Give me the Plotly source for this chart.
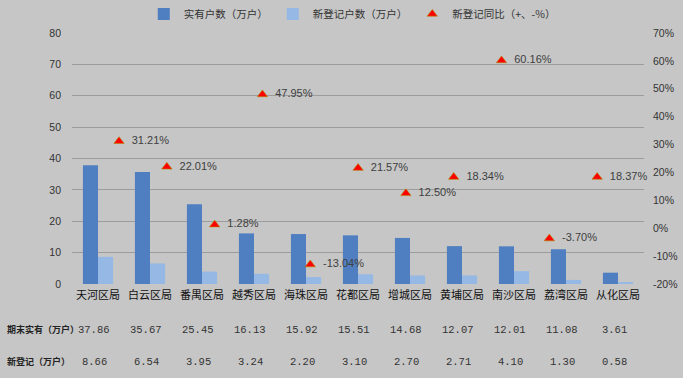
import plotly.graph_objects as go

categories = ["天河区局", "白云区局", "番禺区局", "越秀区局", "海珠区局", "花都区局",
              "增城区局", "黄埔区局", "南沙区局", "荔湾区局", "从化区局"]
existing = [37.86, 35.67, 25.45, 16.13, 15.92, 15.51, 14.68, 12.07, 12.01, 11.08, 3.61]
new_reg = [8.66, 6.54, 3.95, 3.24, 2.20, 3.10, 2.70, 2.71, 4.10, 1.30, 0.58]
yoy_pct = [31.21, 22.01, 1.28, 47.95, -13.04, 21.57, 12.50, 18.34, 60.16, -3.70, 18.37]
left_ticks = [0, 10, 20, 30, 40, 50, 60, 70, 80]
right_ticks = [-20, -10, 0, 10, 20, 30, 40, 50, 60, 70]
row_labels = ["期末实有（万户）", "新登记（万户）"]

BG = "#c6c6c6"
GRID = "#9c9c9c"
TXT = "#333333"
CJK = "Noto Sans CJK SC"

fig = go.Figure()
fig.add_trace(go.Bar(x=categories, y=existing, name="实有户数（万户）",
                     marker=dict(color="#4f7fc0", line=dict(width=0))))
fig.add_trace(go.Bar(x=categories, y=new_reg, name="新登记户数（万户）",
                     marker=dict(color="#95b8e4", line=dict(width=0))))
fig.add_trace(go.Scatter(x=list(range(len(categories))), y=yoy_pct, name="新登记同比（+、-%）",
                         mode="markers+text", xaxis="x2", yaxis="y2", cliponaxis=False,
                         marker=dict(symbol="triangle-up", size=9, color="#ff0000",
                                     line=dict(color="#b08a00", width=0.6)),
                         text=[f"\u00a0\u00a0{v:.2f}%" for v in yoy_pct], textposition="middle right",
                         textfont=dict(family="Liberation Sans", size=11, color="#404040")))

ROW_Y = [-0.183, -0.31]
NUM_FONT = dict(family="Liberation Mono", size=10.5, color=TXT)
annotations = []
for i, c in enumerate(categories):
    annotations.append(dict(x=c, y=ROW_Y[0], xref="x", yref="paper", text=f"{existing[i]:.2f}",
                            showarrow=False, xshift=-4, yanchor="middle", font=NUM_FONT))
    annotations.append(dict(x=c, y=ROW_Y[1], xref="x", yref="paper", text=f"{new_reg[i]:.2f}",
                            showarrow=False, xshift=-4, yanchor="middle", font=NUM_FONT))
for j, lab in enumerate(row_labels):
    annotations.append(dict(x=-0.117, y=ROW_Y[j], xref="paper", yref="paper",
                            text=f"<b>{lab}</b>", showarrow=False, xanchor="left", yanchor="middle",
                            font=dict(family=CJK, size=9, color="#222222")))

fig.update_layout(
    width=683, height=378,
    margin=dict(l=72, r=39, t=33, b=94, autoexpand=False),
    paper_bgcolor=BG, plot_bgcolor=BG,
    barmode="group", bargap=0.42, bargroupgap=0,
    showlegend=True,
    legend=dict(orientation="h", x=0.49, xanchor="center", y=1.076, yanchor="middle",
                font=dict(family=CJK, size=10.5, color=TXT), bgcolor="rgba(0,0,0,0)",
                itemwidth=30, traceorder="normal"),
    xaxis=dict(type="category", showgrid=False, zeroline=False, showline=False,
               ticks="", tickangle=0, ticklabelstandoff=3,
               tickfont=dict(family=CJK, size=11, color="#111111")),
    xaxis2=dict(overlaying="x", range=[-0.983, 10.98], visible=False),
    yaxis=dict(range=[0, 80], tickvals=left_ticks, showgrid=True, gridcolor=GRID, gridwidth=1.2,
               zeroline=False, showline=False, ticks="", ticklabelstandoff=10,
               tickfont=dict(family="Liberation Sans", size=10.5, color=TXT)),
    yaxis2=dict(range=[-20, 70], tickvals=right_ticks, ticktext=[f"{v}%" for v in right_ticks],
                overlaying="y", side="right", showgrid=False, zeroline=False, showline=False,
                ticks="", ticklabelstandoff=8,
                tickfont=dict(family="Liberation Sans", size=10.5, color=TXT)),
    annotations=annotations,
)

fig.write_html("out.html", config={"displayModeBar": False},
               post_script="document.body.style.margin='0';document.body.style.background='%s';" % BG)
